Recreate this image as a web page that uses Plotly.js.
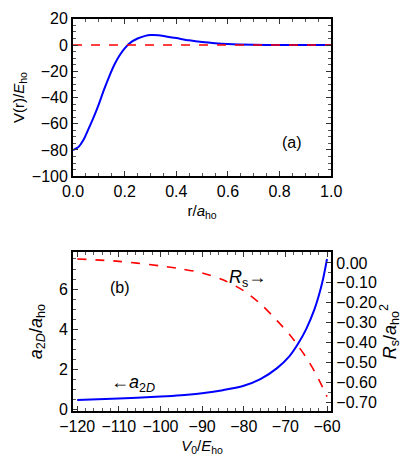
<!DOCTYPE html>
<html>
<head>
<meta charset="utf-8">
<script src="https://cdn.plot.ly/plotly-3.0.1.min.js"></script>
<style>
  html, body { margin: 0; padding: 0; background: white; }
  #myDiv { width: 415px; height: 471px; }
</style>
</head>
<body>
<div id="myDiv"></div>
<script>
// panel (a): potential V(r)
var r = [0, 0.02, 0.04, 0.06, 0.08, 0.1, 0.12, 0.14, 0.16, 0.18, 0.2, 0.22, 0.25, 0.28, 0.3, 0.33, 0.36, 0.4, 0.45, 0.5, 0.55, 0.6, 0.7, 0.8, 0.9, 1.0];
var V = [-80, -78, -72.5, -64, -55, -45, -34, -24, -15, -8, -2.5, 1.5, 5, 7, 7.6, 7.5, 6.6, 5.3, 3.6, 2.3, 1.4, 0.8, 0.25, 0.07, 0.02, 0];
var zeroR = [0, 1];
var zeroV = [0, 0];

// panel (b): a_2D and R_s against V0
var V0 = [-120, -110, -100, -95, -90, -85, -80, -76, -72, -69, -67, -65, -63, -62, -61, -60];
var a2D = [0.46, 0.53, 0.63, 0.7, 0.8, 0.95, 1.17, 1.5, 2.05, 2.65, 3.25, 4.0, 5.0, 5.65, 6.45, 7.5];
var Rs = [0.02, 0.008, -0.015, -0.03, -0.05, -0.085, -0.14, -0.205, -0.29, -0.36, -0.415, -0.475, -0.545, -0.585, -0.627, -0.672];

var font = 'Liberation Sans, Arial, sans-serif';
var tickfont = {family: font, size: 16, color: 'black'};

function frameAxis(extra) {
  var ax = {
    showgrid: false,
    zeroline: false,
    showline: true,
    linewidth: 2,
    linecolor: 'black',
    ticks: 'inside',
    ticklen: 5,
    tickwidth: 1,
    tickcolor: '#333',
    mirror: 'ticks',
    tickfont: tickfont
  };
  for (var k in extra) ax[k] = extra[k];
  return ax;
}

function minorTicks(d) {
  return {ticks: 'inside', ticklen: 3, dtick: d, tickcolor: '#555'};
}

var data = [
  {x: r, y: V, type: 'scatter', mode: 'lines', line: {color: 'blue', width: 2, shape: 'spline', smoothing: 0.9}, xaxis: 'x', yaxis: 'y'},
  {x: zeroR, y: zeroV, type: 'scatter', mode: 'lines', line: {color: 'red', width: 1.6, dash: 'dash'}, xaxis: 'x', yaxis: 'y'},
  {x: V0, y: a2D, type: 'scatter', mode: 'lines', line: {color: 'blue', width: 2, shape: 'spline', smoothing: 0.9}, xaxis: 'x2', yaxis: 'y2'},
  {x: V0, y: Rs, type: 'scatter', mode: 'lines', line: {color: 'red', width: 1.6, dash: 'dash', shape: 'spline', smoothing: 0.9}, xaxis: 'x2', yaxis: 'y3'}
];

var layout = {
  width: 415,
  height: 471,
  showlegend: false,
  margin: {l: 0, r: 0, t: 0, b: 0},
  paper_bgcolor: 'white',
  plot_bgcolor: 'white',
  xaxis: frameAxis({
    domain: [0.176, 0.798], range: [0, 1], anchor: 'y',
    dtick: 0.2, tickformat: '.1f', minor: minorTicks(0.05),
    title: {text: 'r/<i>a</i><sub>ho</sub>', font: {family: font, size: 15, color: 'black'}, standoff: 6}
  }),
  yaxis: frameAxis({
    domain: [0.626, 0.96], range: [-100, 20], anchor: 'x',
    dtick: 20, minor: minorTicks(5),
    title: {text: 'V(r)/<i>E</i><sub>ho</sub>', font: {family: font, size: 15, color: 'black'}, standoff: 4}
  }),
  xaxis2: frameAxis({
    domain: [0.176, 0.798], range: [-121, -59], anchor: 'y2',
    dtick: 10, minor: minorTicks(2),
    title: {text: '<i>V</i><sub>0</sub>/<i>E</i><sub>ho</sub>', font: {family: font, size: 15, color: 'black'}, standoff: 6}
  }),
  yaxis2: frameAxis({
    domain: [0.127, 0.465], range: [-0.1, 7.85], anchor: 'x2',
    dtick: 2, mirror: true, minor: minorTicks(0.5),
    title: {text: '<i>a</i><sub>2<i>D</i></sub>/<i>a</i><sub>ho</sub>', font: {family: font, size: 18, color: 'black'}, standoff: 12}
  }),
  yaxis3: frameAxis({
    overlaying: 'y2', side: 'right', anchor: 'x2',
    range: [-0.745, 0.055], dtick: 0.1, tickformat: '.2f', mirror: false,
    minor: minorTicks(0.05),
    title: {text: '<i>R</i><sub>s</sub>/<i>a</i><sub>ho</sub><sup>2</sup>', font: {family: font, size: 18, color: 'black'}, standoff: 4}
  }),
  annotations: [
    {x: 0.85, y: -74, xref: 'x', yref: 'y', text: '(a)', showarrow: false, font: {family: font, size: 16, color: 'black'}},
    {x: -109.7, y: 6.1, xref: 'x2', yref: 'y2', text: '(b)', showarrow: false, font: {family: font, size: 16, color: 'black'}},
    {x: -106.6, y: 1.3, xref: 'x2', yref: 'y2', text: '\u2190<i>a</i><sub>2<i>D</i></sub>', showarrow: false, font: {family: font, size: 18, color: 'black'}},
    {x: -79.2, y: 6.55, xref: 'x2', yref: 'y2', text: '<i>R</i><sub>s</sub>\u2192', showarrow: false, font: {family: font, size: 18, color: 'black'}}
  ]
};

Plotly.newPlot('myDiv', data, layout, {displayModeBar: false});
</script>
</body>
</html>
